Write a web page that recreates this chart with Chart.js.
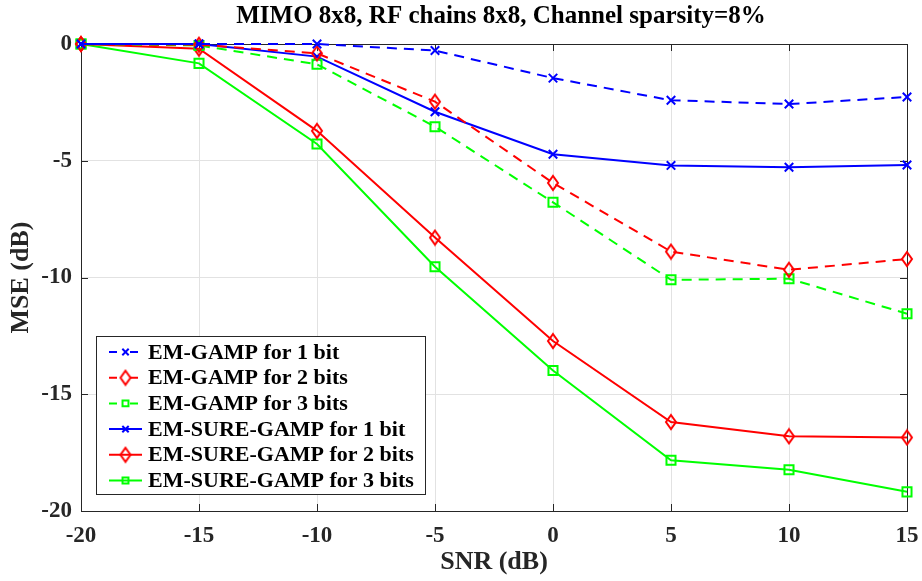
<!DOCTYPE html>
<html>
<head>
<meta charset="utf-8">
<title>MSE vs SNR</title>
<script src="https://cdn.jsdelivr.net/npm/chart.js@4.4.0/dist/chart.umd.min.js"></script>
<style>
  html, body { margin: 0; padding: 0; background: #fff; }
  #wrap { width: 922px; height: 581px; }
</style>
</head>
<body>
<div id="wrap"><canvas id="mseChart"></canvas></div>
<script>
// SNR sweep (dB) and MSE results (dB) for each estimator
const snr = [-20, -15, -10, -5, 0, 5, 10, 15];
const gamp1bit = [0, 0, 0, -0.28, -1.46, -2.41, -2.57, -2.27];
const gamp2bit = [0, -0.03, -0.4, -2.47, -5.95, -8.89, -9.67, -9.21];
const gamp3bit = [0, -0.06, -0.87, -3.54, -6.78, -10.1, -10.05, -11.55];
const sure1bit = [0, 0, -0.54, -2.9, -4.72, -5.2, -5.28, -5.18];
const sure2bit = [0, -0.2, -3.72, -8.29, -12.72, -16.19, -16.8, -16.85];
const sure3bit = [0, -0.83, -4.28, -9.54, -13.98, -17.83, -18.23, -19.18];

const labels = [
  'EM-GAMP for 1 bit',
  'EM-GAMP for 2 bits',
  'EM-GAMP for 3 bits',
  'EM-SURE-GAMP for 1 bit',
  'EM-SURE-GAMP for 2 bits',
  'EM-SURE-GAMP for 3 bits'
];

const titleText = 'MIMO 8x8, RF chains 8x8, Channel sparsity=8%';
const FONT = "'Liberation Serif', 'Times New Roman', serif";
const AXIS = '#262626';
const GRID = '#e2e2e2';

// hollow diamond, a bit taller than wide
function diamond(color) {
  const c = document.createElement('canvas');
  c.width = 14;
  c.height = 18;
  const g = c.getContext('2d');
  g.strokeStyle = color;
  g.lineWidth = 2;
  g.beginPath();
  g.moveTo(7, 2);
  g.lineTo(12, 9);
  g.lineTo(7, 16);
  g.lineTo(2, 9);
  g.closePath();
  g.stroke();
  return c;
}

function series(label, values, color, dashed, style, radius) {
  return {
    label: label,
    data: snr.map((x, i) => ({ x: x, y: values[i] })),
    borderColor: color,
    backgroundColor: color,
    borderWidth: 2,
    borderDash: dashed ? [10, 7] : [],
    pointStyle: style,
    pointRadius: radius,
    pointHoverRadius: radius,
    pointBorderWidth: 2,
    pointBorderColor: color,
    pointBackgroundColor: 'rgba(0,0,0,0)',
    tension: 0,
    clip: false,
    dashed: dashed
  };
}

const datasets = [
  series(labels[0], gamp1bit, '#0000ff', true, 'crossRot', 6),
  series(labels[1], gamp2bit, '#ff0000', true, diamond('#ff0000'), 7),
  series(labels[2], gamp3bit, '#00ff00', true, 'rect', 6.4),
  series(labels[3], sure1bit, '#0000ff', false, 'crossRot', 6),
  series(labels[4], sure2bit, '#ff0000', false, diamond('#ff0000'), 7),
  series(labels[5], sure3bit, '#00ff00', false, 'rect', 6.4)
];

// frame with inward ticks on all four sides
const framePlugin = {
  id: 'frame',
  beforeDatasetsDraw(chart) {
    const { ctx, chartArea: a, scales } = chart;
    const len = 7;
    ctx.save();
    ctx.strokeStyle = AXIS;
    ctx.lineWidth = 1;
    ctx.strokeRect(a.left + 0.5, a.top + 0.5, a.right - a.left, a.bottom - a.top);
    ctx.beginPath();
    scales.x.ticks.forEach(t => {
      const px = Math.round(scales.x.getPixelForValue(t.value)) + 0.5;
      ctx.moveTo(px, a.bottom);
      ctx.lineTo(px, a.bottom - len);
      ctx.moveTo(px, a.top);
      ctx.lineTo(px, a.top + len);
    });
    scales.y.ticks.forEach(t => {
      const py = Math.round(scales.y.getPixelForValue(t.value)) + 0.5;
      ctx.moveTo(a.left, py);
      ctx.lineTo(a.left + len, py);
      ctx.moveTo(a.right, py);
      ctx.lineTo(a.right - len, py);
    });
    ctx.stroke();
    ctx.restore();
  }
};

// title and boxed legend inside the plot
const textPlugin = {
  id: 'texts',
  afterDraw(chart) {
    const { ctx } = chart;
    ctx.save();
    ctx.fillStyle = '#000';
    ctx.font = 'bold 25px ' + FONT;
    ctx.textAlign = 'center';
    ctx.textBaseline = 'middle';
    ctx.fillText(titleText, 501, 17);

    const box = { x: 96.5, y: 336.5, w: 329, h: 158 };
    ctx.fillStyle = '#fff';
    ctx.fillRect(box.x, box.y, box.w, box.h);
    ctx.strokeStyle = AXIS;
    ctx.lineWidth = 1;
    ctx.strokeRect(box.x, box.y, box.w, box.h);

    ctx.font = 'bold 22px ' + FONT;
    ctx.textAlign = 'left';
    chart.data.datasets.forEach((ds, i) => {
      const y = 352 + i * 25.7;
      ctx.strokeStyle = ds.borderColor;
      ctx.lineWidth = 2;
      ctx.setLineDash(ds.dashed ? [8, 13] : []);
      ctx.beginPath();
      ctx.moveTo(109, y);
      ctx.lineTo(142, y);
      ctx.stroke();
      ctx.setLineDash([]);
      ctx.fillStyle = 'rgba(0,0,0,0)';
      Chart.helpers.drawPoint(ctx, {
        pointStyle: ds.pointStyle,
        radius: ds.pointStyle === 'rect' ? 4.2 : 4.5,
        borderWidth: 2,
        rotation: 0
      }, 125.5, y);
      ctx.fillStyle = '#000';
      ctx.fillText(ds.label, 148, y + 1);
    });
    ctx.restore();
  }
};

new Chart(document.getElementById('mseChart'), {
  type: 'line',
  data: { datasets: datasets },
  options: {
    responsive: true,
    maintainAspectRatio: false,
    animation: false,
    events: [],
    layout: { padding: { top: 44, right: 15, left: 0, bottom: 0 } },
    plugins: {
      legend: { display: false },
      tooltip: { enabled: false }
    },
    scales: {
      x: {
        type: 'linear',
        min: -20,
        max: 15,
        ticks: {
          stepSize: 5,
          color: AXIS,
          padding: 11,
          maxRotation: 0,
          font: { family: FONT, weight: 'bold', size: 23 }
        },
        grid: { color: GRID, drawTicks: false },
        border: { display: false },
        title: {
          display: true,
          text: 'SNR (dB)',
          color: AXIS,
          padding: { top: 0, bottom: 3 },
          font: { family: FONT, weight: 'bold', size: 26 }
        },
        afterFit: s => {
          s.height = 70;
          s.paddingLeft = 0;
          s.paddingRight = 0;
        }
      },
      y: {
        min: -20,
        max: 0,
        ticks: {
          stepSize: 5,
          color: AXIS,
          padding: 9,
          font: { family: FONT, weight: 'bold', size: 23 }
        },
        grid: { color: GRID, drawTicks: false },
        border: { display: false },
        title: {
          display: true,
          text: 'MSE (dB)',
          color: AXIS,
          padding: { top: 6, bottom: 0 },
          font: { family: FONT, weight: 'bold', size: 26 }
        },
        afterFit: s => {
          s.width = 81;
          s.paddingTop = 0;
          s.paddingBottom = 0;
        }
      }
    }
  },
  plugins: [framePlugin, textPlugin]
});
</script>
</body>
</html>
